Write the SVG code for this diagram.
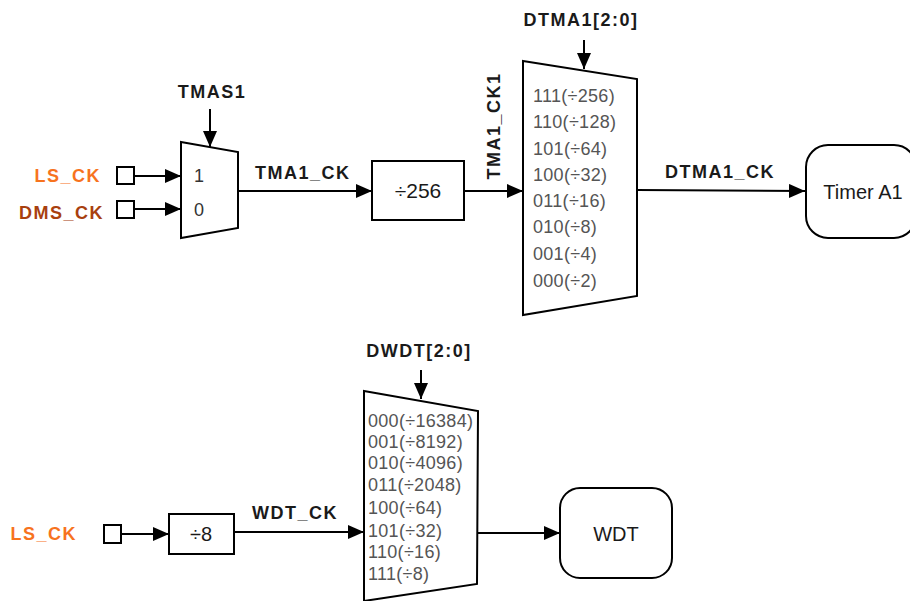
<svg xmlns="http://www.w3.org/2000/svg" width="910" height="601" viewBox="0 0 910 601">
<defs>
<marker id="ahL" viewBox="0 0 16 14" refX="16" refY="7" markerWidth="16" markerHeight="14" markerUnits="userSpaceOnUse" orient="auto">
<path d="M0,0 L16,7 L0,14 Z" fill="#000"/>
</marker>
</defs>
<style>
.sh{fill:#fff;stroke:#000;stroke-width:2}
.ln{fill:none;stroke:#000;stroke-width:2}
.lbl{font-family:"Liberation Sans",Arial,sans-serif;font-weight:bold;font-size:18px;letter-spacing:1.5px;fill:#1a1a1a}
.item{font-family:"Liberation Sans",Arial,sans-serif;font-size:18px;letter-spacing:0.3px;fill:#555}
.txt{font-family:"Liberation Sans",Arial,sans-serif;font-size:20px;fill:#1a1a1a}
.in1{fill:#F7731E}
.in2{fill:#A8400E}
</style>
<rect width="910" height="601" fill="#fff"/>

<g id="connectors">
<line class="ln" x1="134" y1="176" x2="181" y2="176" marker-end="url(#ahL)"/>
<line class="ln" x1="134" y1="209" x2="181" y2="209" marker-end="url(#ahL)"/>
<line class="ln" x1="210" y1="109" x2="210" y2="147" marker-end="url(#ahL)"/>
<line class="ln" x1="238" y1="191" x2="372" y2="191" marker-end="url(#ahL)"/>
<line class="ln" x1="464" y1="191" x2="523" y2="191" marker-end="url(#ahL)"/>
<line class="ln" x1="584" y1="40" x2="584" y2="69" marker-end="url(#ahL)"/>
<line class="ln" x1="637" y1="190" x2="805" y2="191" marker-end="url(#ahL)"/>
<line class="ln" x1="121" y1="534" x2="169" y2="534" marker-end="url(#ahL)"/>
<line class="ln" x1="234" y1="532" x2="364" y2="532" marker-end="url(#ahL)"/>
<line class="ln" x1="421" y1="370" x2="421" y2="399" marker-end="url(#ahL)"/>
<line class="ln" x1="477" y1="533" x2="560" y2="533" marker-end="url(#ahL)"/>
</g>

<g id="ls_ck_top">
<text class="lbl in1" x="101" y="182" text-anchor="end">LS_CK</text>
<rect class="sh" x="117" y="167" width="17" height="17"/>
</g>
<g id="dms_ck">
<text class="lbl in2" x="104" y="219" text-anchor="end">DMS_CK</text>
<rect class="sh" x="117" y="201" width="17" height="17"/>
</g>

<g id="mux_tmas1">
<polygon class="sh" points="181,142 238,152 238,228 181,238"/>
<text class="txt" x="194" y="182" style="font-size:18px;fill:#333">1</text>
<text class="txt" x="194" y="216" style="font-size:18px;fill:#333">0</text>
<text class="lbl" x="212" y="98" text-anchor="middle">TMAS1</text>
</g>

<text class="lbl" x="255" y="179">TMA1_CK</text>

<g id="div256">
<rect class="sh" x="372" y="161" width="92" height="59"/>
<text class="txt" x="418" y="198" text-anchor="middle" style="font-size:21px">÷256</text>
</g>

<text class="lbl" transform="translate(500,126) rotate(-90)" text-anchor="middle">TMA1_CK1</text>

<g id="mux_dtma1">
<polygon class="sh" points="523,61 637,79 637,296 523,315"/>
<text class="lbl" x="581" y="26" text-anchor="middle">DTMA1[2:0]</text>
<text class="item" x="533" y="102">111(÷256)</text>
<text class="item" x="533" y="128">110(÷128)</text>
<text class="item" x="533" y="155">101(÷64)</text>
<text class="item" x="533" y="181">100(÷32)</text>
<text class="item" x="533" y="207">011(÷16)</text>
<text class="item" x="533" y="233">010(÷8)</text>
<text class="item" x="533" y="260">001(÷4)</text>
<text class="item" x="533" y="287">000(÷2)</text>
</g>

<text class="lbl" x="665" y="178">DTMA1_CK</text>

<g id="timer_a1">
<rect class="sh" x="806" y="145" width="110" height="93" rx="22" ry="22"/>
<text class="txt" x="863" y="199" text-anchor="middle">Timer A1</text>
</g>

<g id="ls_ck_bottom">
<text class="lbl in1" x="77" y="540" text-anchor="end">LS_CK</text>
<rect class="sh" x="104" y="525" width="17" height="18"/>
</g>

<g id="div8">
<rect class="sh" x="169" y="514" width="65" height="40"/>
<text class="txt" x="201" y="541" text-anchor="middle">÷8</text>
</g>

<text class="lbl" x="252" y="519">WDT_CK</text>

<g id="mux_dwdt">
<polygon class="sh" points="364,391 478,411 477,584 364,601"/>
<text class="lbl" x="419" y="357" text-anchor="middle">DWDT[2:0]</text>
<text class="item" x="368" y="427">000(÷16384)</text>
<text class="item" x="368" y="448">001(÷8192)</text>
<text class="item" x="368" y="469">010(÷4096)</text>
<text class="item" x="368" y="491">011(÷2048)</text>
<text class="item" x="368" y="514">100(÷64)</text>
<text class="item" x="368" y="537">101(÷32)</text>
<text class="item" x="368" y="558">110(÷16)</text>
<text class="item" x="368" y="580">111(÷8)</text>
</g>

<g id="wdt">
<rect class="sh" x="560" y="488" width="112" height="90" rx="20" ry="20"/>
<text class="txt" x="616" y="541" text-anchor="middle">WDT</text>
</g>
</svg>
